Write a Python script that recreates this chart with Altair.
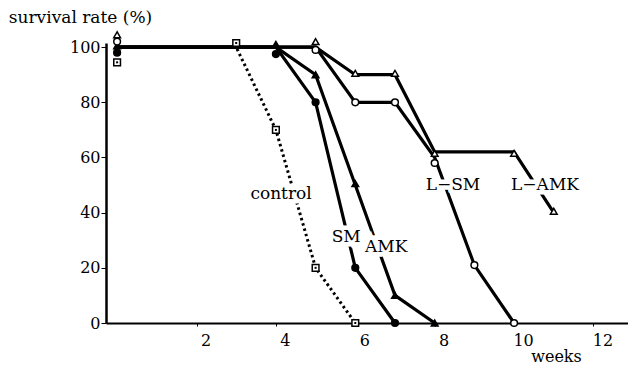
import altair as alt
import pandas as pd

# ---- data ----
series_names = ["control", "SM", "AMK", "L-SM", "L-AMK"]

weeks_control = [0, 3, 4, 5, 6]
surv_control = [100, 100, 70, 20, 0]
mark_control = [94.5, 101.5, 70, 20, 0]

weeks_sm = [0, 4, 5, 6, 7]
surv_sm = [100, 100, 80, 20, 0]
mark_sm = [98, 97.5, 80, 20, 0]

weeks_amk = [0, 4, 5, 6, 7, 8]
surv_amk = [100, 100, 90, 50, 10, 0]
mark_amk = [100.5, 101, 90, 50.5, 10, 0]

weeks_lsm = [0, 5, 6, 7, 8, 9, 10]
surv_lsm = [100, 100, 80, 80, 60, 21, 0]
mark_lsm = [102, 99, 80, 80, 58, 21, 0]

weeks_lamk = [0, 5, 6, 7, 8, 10, 11]
surv_lamk = [100, 100, 90, 90, 62, 62, 40]
mark_lamk = [104.5, 102, 90.5, 90.5, 61.5, 61.5, 40.5]

label_texts = ["control", "L\u2212SM", "L\u2212AMK", "SM", "AMK"]
label_x = [4.13, 8.46, 10.78, 5.77, 6.78]
label_y = [46.7, 50, 50, 31.2, 27.5]

x_ticks = [2, 4, 6, 8, 10, 12]
y_ticks = [0, 10, 20, 30, 40, 50, 60, 70, 80, 90, 100]

marker_shapes = ["square", "circle", "triangle-up", "circle", "triangle-up"]
marker_fills = ["white", "black", "black", "white", "white"]
marker_sizes = [45, 45, 80, 40, 90]

# ---- build tables ----
rows = []
for name, w, s, m in [
    ("control", weeks_control, surv_control, mark_control),
    ("SM", weeks_sm, surv_sm, mark_sm),
    ("AMK", weeks_amk, surv_amk, mark_amk),
    ("L-SM", weeks_lsm, surv_lsm, mark_lsm),
    ("L-AMK", weeks_lamk, surv_lamk, mark_lamk),
]:
    for i, (wi, si, mi) in enumerate(zip(w, s, m)):
        rows.append({"series": name, "week": wi, "surv": si, "mark": mi, "order": i})
df = pd.DataFrame(rows)
labels = pd.DataFrame({"text": label_texts, "x": label_x, "y": label_y})

FONT = "DejaVu Serif"
xscale = alt.Scale(domain=[-0.28, 12.87], nice=False, zero=False)
yscale = alt.Scale(domain=[0, 101.5], nice=False, zero=False)

base = alt.Chart(df)

xenc = alt.X(
    "week:Q", scale=xscale,
    axis=alt.Axis(values=x_ticks, title="weeks", titleX=450, titleY=33,
                  titleAlign="center", titleBaseline="middle", titleAngle=0,
                  titleFont=FONT, titleFontSize=16, titleFontWeight="normal",
                  labelFont=FONT, labelFontSize=16, labelOffset=9, labelPadding=6,
                  tickSize=3, grid=False, domainWidth=2, domainColor="black",
                  tickColor="black", labelColor="black", titleColor="black"),
)
yenc = alt.Y(
    "surv:Q", scale=yscale,
    axis=alt.Axis(values=y_ticks, title="survival rate (%)",
                  labelExpr="datum.value % 20 == 0 ? datum.label : ''",
                  titleX=-26, titleY=-26, titleAngle=0, titleAlign="center",
                  titleBaseline="middle", titleFont=FONT, titleFontSize=17,
                  titleFontWeight="normal", labelFont=FONT, labelFontSize=16,
                  labelPadding=1, tickSize=5, grid=False, domainWidth=2.5,
                  domainColor="black", tickColor="black", labelColor="black",
                  titleColor="black"),
)

solid = base.transform_filter(alt.datum.series != "control").mark_line(
    color="black", strokeWidth=3.2
).encode(x=xenc, y=yenc, detail="series:N", order="order:Q")

dotted = base.transform_filter(alt.datum.series == "control").mark_line(
    color="black", strokeWidth=3, strokeDash=[2.5, 3]
).encode(x=alt.X("week:Q", scale=xscale), y=alt.Y("surv:Q", scale=yscale), order="order:Q")

halo = alt.Chart(labels).mark_text(
    font=FONT, fontSize=17, stroke="white", strokeWidth=9, color="white"
).encode(x=alt.X("x:Q", scale=xscale), y=alt.Y("y:Q", scale=yscale), text="text:N")

text = alt.Chart(labels).mark_text(
    font=FONT, fontSize=17, color="black"
).encode(x=alt.X("x:Q", scale=xscale), y=alt.Y("y:Q", scale=yscale), text="text:N")

points = base.mark_point(stroke="black", strokeWidth=1.5, opacity=1, filled=False).encode(
    x=alt.X("week:Q", scale=xscale),
    y=alt.Y("mark:Q", scale=yscale),
    shape=alt.Shape("series:N", scale=alt.Scale(domain=series_names, range=marker_shapes), legend=None),
    fill=alt.Fill("series:N", scale=alt.Scale(domain=series_names, range=marker_fills), legend=None),
    size=alt.Size("series:N", scale=alt.Scale(domain=series_names, range=marker_sizes), legend=None),
)

dots = base.transform_filter(alt.datum.series == "control").mark_point(
    shape="square", size=4, filled=True, color="black", opacity=1
).encode(x=alt.X("week:Q", scale=xscale), y=alt.Y("mark:Q", scale=yscale))

chart = alt.layer(solid, dotted, halo, text, points, dots).properties(
    width=522, height=280,
    background="white",
    autosize=alt.AutoSizeParams(type="none"),
    padding={"left": 106, "top": 43, "right": 0, "bottom": 42},
).configure_view(stroke=None, strokeWidth=0)

chart.save("out.html", embed_options={"renderer": "svg", "actions": False})
